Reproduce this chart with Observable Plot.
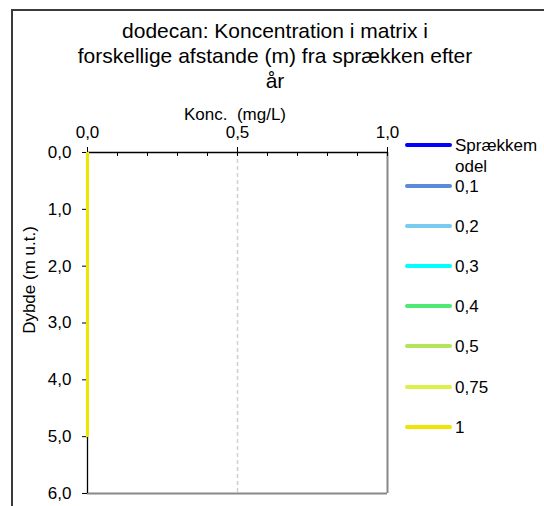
<!DOCTYPE html>
<html><head><meta charset="utf-8">
<script src="https://cdn.jsdelivr.net/npm/d3@7"></script>
<script src="https://cdn.jsdelivr.net/npm/@observablehq/plot@0.6"></script>
<style>
body{margin:0;background:#fff;font-family:Arial,"Liberation Sans",sans-serif;color:#000;}
#wrap{position:relative;width:544px;height:506px;overflow:hidden;}
#frame{position:absolute;left:11px;top:9px;width:700px;height:700px;border-left:2px solid #3a3a3a;border-top:2px solid #3a3a3a;box-sizing:border-box;}
#title{position:absolute;left:0;width:550px;top:18px;text-align:center;font-size:21px;line-height:25px;white-space:nowrap;}
#chart{position:absolute;left:0;top:0;}
#xlab{position:absolute;left:135px;width:200px;top:105px;text-align:center;font-size:17px;line-height:20px;white-space:pre;}
#ylab{position:absolute;left:-70px;width:200px;top:270px;text-align:center;font-size:17px;line-height:20px;transform:rotate(-90deg);transform-origin:center;white-space:nowrap;}
.row{position:absolute;left:405px;height:20px;}
.sw{position:absolute;left:0;top:8px;width:47px;height:4px;border-radius:2px;}
.lt{position:absolute;left:50px;top:0;width:89px;font-size:17px;line-height:21px;word-break:break-all;}
</style></head>
<body>
<div id="wrap">
  <div id="frame"></div>
  <div id="title"></div>
  <div id="chart"></div>
  <div id="xlab"></div>
  <div id="ylab"></div>
  <div id="legend"></div>
</div>
<script>
const titelLinjer = ["dodecan: Koncentration i matrix i", "forskellige afstande (m) fra sprækken efter", "år"];
const xTitel = "Konc.  (mg/L)";
const yTitel = "Dybde (m u.t.)";
const serier = ["Sprækkemodel", "0,1", "0,2", "0,3", "0,4", "0,5", "0,75", "1"];
const farver = ["#0000ff", "#5a8ad8", "#7acbf2", "#00ffff", "#4ee874", "#b4e45a", "#dcf04a", "#eee600"];
const dybde = [0, 1, 2, 3, 4, 5];
const kSpraekkemodel = [0, 0, 0, 0, 0, 0];
const k01 = [0, 0, 0, 0, 0, 0];
const k02 = [0, 0, 0, 0, 0, 0];
const k03 = [0, 0, 0, 0, 0, 0];
const k04 = [0, 0, 0, 0, 0, 0];
const k05 = [0, 0, 0, 0, 0, 0];
const k075 = [0, 0, 0, 0, 0, 0];
const k1 = [0, 0, 0, 0, 0, 0];
const xTicks = [0, 0.5, 1];
const xMinorTicks = [0, 0.1, 0.2, 0.3, 0.4, 0.5, 0.6, 0.7, 0.8, 0.9, 1];
const yTicks = [0, 1, 2, 3, 4, 5, 6];

const koncLister = [kSpraekkemodel, k01, k02, k03, k04, k05, k075, k1];
const data = serier.flatMap((s, i) => dybde.map((d, j) => ({serie: s, dybde: d, konc: koncLister[i][j]})));
const fmt = d => d.toFixed(1).replace(".", ",");

document.getElementById("title").innerHTML = titelLinjer.join("<br>");
document.getElementById("xlab").textContent = xTitel;
document.getElementById("ylab").textContent = yTitel;

const chart = Plot.plot({
  width: 544, height: 506,
  marginLeft: 87, marginRight: 157, marginTop: 152, marginBottom: 13,
  style: {background: "transparent", fontFamily: "Arial, 'Liberation Sans', sans-serif", fontSize: "17px", color: "#000"},
  x: {domain: [0, 1]},
  y: {domain: [0, 6], reverse: true},
  color: {domain: serier, range: farver},
  marks: [
    Plot.gridX([0.5], {stroke: "#d0d0d0", strokeOpacity: 1, strokeWidth: 1.5, strokeDasharray: "4,3"}),
    Plot.ruleX([1], {stroke: "#888", strokeWidth: 2}),
    Plot.ruleY([6], {stroke: "#888", strokeWidth: 2}),
    Plot.ruleX([0], {stroke: "#000", strokeWidth: 1.3}),
    Plot.ruleY([0], {stroke: "#000", strokeWidth: 1.3}),
    Plot.axisX(xTicks, {anchor: "top", tickSize: 6, tickPadding: 9, tickFormat: fmt, label: null, fontSize: 17, stroke: "#000"}),
    Plot.axisX(xMinorTicks, {anchor: "top", tickSize: -3, text: null, label: null, stroke: "#000"}),
    Plot.axisY(yTicks, {anchor: "left", tickSize: 5, tickPadding: 11, tickFormat: fmt, label: null, fontSize: 17, stroke: "#000"}),
    Plot.line(data, {x: "konc", y: "dybde", z: "serie", stroke: "serie", strokeWidth: 3, strokeLinecap: "butt"})
  ]
});
document.getElementById("chart").appendChild(chart);

const legend = document.getElementById("legend");
serier.forEach((s, i) => {
  const lineY = i === 0 ? 145 : 186 + 40.1 * (i - 1);
  const row = document.createElement("div");
  row.className = "row";
  row.style.top = (lineY - 10) + "px";
  const sw = document.createElement("div");
  sw.className = "sw";
  sw.style.background = farver[i];
  const lt = document.createElement("div");
  lt.className = "lt";
  lt.textContent = s;
  row.appendChild(sw); row.appendChild(lt);
  legend.appendChild(row);
});
</script>
</body></html>
